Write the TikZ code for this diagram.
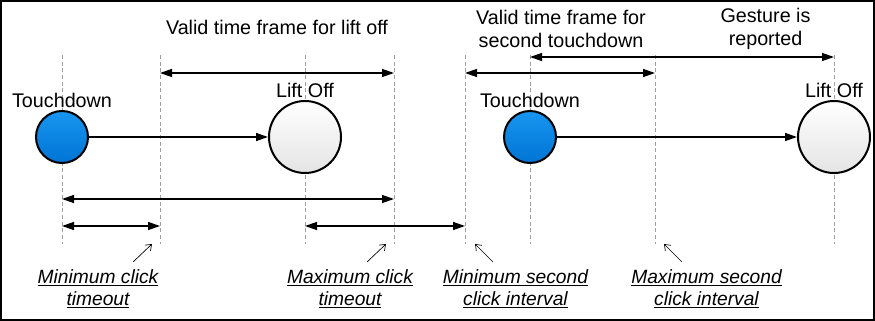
\documentclass[tikz,border=0pt]{standalone}
\usepackage{fontspec}
\setmainfont{Liberation Sans}
\definecolor{touchTop}{RGB}{24, 150, 240}
\definecolor{touchBot}{RGB}{0, 116, 212}
\definecolor{liftBot}{RGB}{228, 228, 228}
\usetikzlibrary{positioning, arrows.meta}

\begin{document}
\begin{tikzpicture}[
    x=0.75pt, y=-0.75pt,
    font=\fontsize{14.8}{17.2}\selectfont,
    guide/.style={draw=gray!75, dash pattern=on 3pt off 2pt, line width=0.5pt},
    touch/.style={circle, draw=black, line width=1.5pt, minimum size=39pt,
                  inner sep=0pt, top color=touchTop, bottom color=touchBot},
    lift/.style={circle, draw=black, line width=1.5pt, minimum size=54pt,
                 inner sep=0pt, top color=white, bottom color=liftBot},
    caption/.style={align=center, inner sep=0pt},
    note/.style={align=center, inner sep=0pt,
                 font=\fontsize{14.4}{16.5}\selectfont\itshape},
    dim/.style={{Triangle[length=9pt,width=6pt]}-{Triangle[length=9pt,width=6pt]},
                line width=1pt},
    flow/.style={-{Triangle[length=9pt,width=6pt]}, line width=1pt},
    pointer/.style={-{Straight Barb[length=4pt,width=6pt]}, line width=0.5pt}
  ]
    \useasboundingbox (0,0) rectangle (875,321);
    \draw[line width=1.1pt] (1,1) rectangle (874,320);

    % Guide lines
    \foreach \x/\n in {62/tda, 160/mnc, 305/loa, 394/mxc, 465/mns, 530/tdb, 655/mxs, 834/lob} {
      \coordinate (top\n) at (\x,55);
      \coordinate (bot\n) at (\x,244);
      \draw[guide] (top\n) -- (bot\n);
    }

    % Touch events
    \node[touch] (tda) at (62,137) {};
    \node[lift] (loa) at (305,137) {};
    \node[touch] (tdb) at (530,137) {};
    \node[lift] (lob) at (834,137) {};

    \node[caption] (tdaText) at (62,100) {Touchdown};
    \node[caption] (loaText) at (305,90) {Lift Off};
    \node[caption] (tdbText) at (530,100) {Touchdown};
    \node[caption] (lobText) at (834,90) {Lift Off};

    \draw[flow] (tda) -- (loa);
    \draw[flow] (tdb) -- (lob);

    % Top: time frames
    \node[caption] (liftFrame) at (277,27) {Valid time frame for lift off};
    \node[caption] (secondFrame) at (561,28.5) {Valid time frame for\\second touchdown};
    \node[caption] (gesture) at (765.5,28.5) {Gesture is\\reported};

    \draw[dim] (topmnc |- 0,73) -- (topmxc |- 0,73);
    \draw[dim] (topmns |- 0,73) -- (topmxs |- 0,73);
    \draw[dim] (toptdb |- 0,57) -- (toplob |- 0,57);

    % Bottom: timeouts
    \draw[dim] (toptda |- 0,199) -- (topmxc |- 0,199);
    \draw[dim] (toptda |- 0,226) -- (topmnc |- 0,226);
    \draw[dim] (toploa |- 0,226) -- (topmns |- 0,226);

    \node[note] (minClick) at (98,288.5) {\underline{Minimum click}\\\underline{timeout}};
    \node[note] (maxClick) at (350,288.5) {\underline{Maximum click}\\\underline{timeout}};
    \node[note] (minSecond) at (515.5,288.5) {\underline{Minimum second}\\\underline{click interval}};
    \node[note] (maxSecond) at (706.5,288.5) {\underline{Maximum second}\\\underline{click interval}};

    \coordinate (minClickTail) at (133,262);
    \coordinate (minClickTip) at (152,244);
    \coordinate (maxClickTail) at (367,262);
    \coordinate (maxClickTip) at (386,244);
    \coordinate (minSecondTail) at (493,262);
    \coordinate (minSecondTip) at (475,244);
    \coordinate (maxSecondTail) at (682,262);
    \coordinate (maxSecondTip) at (664,244);

    \draw[pointer] (minClickTail) -- (minClickTip);
    \draw[pointer] (maxClickTail) -- (maxClickTip);
    \draw[pointer] (minSecondTail) -- (minSecondTip);
    \draw[pointer] (maxSecondTail) -- (maxSecondTip);
\end{tikzpicture}
\end{document}
